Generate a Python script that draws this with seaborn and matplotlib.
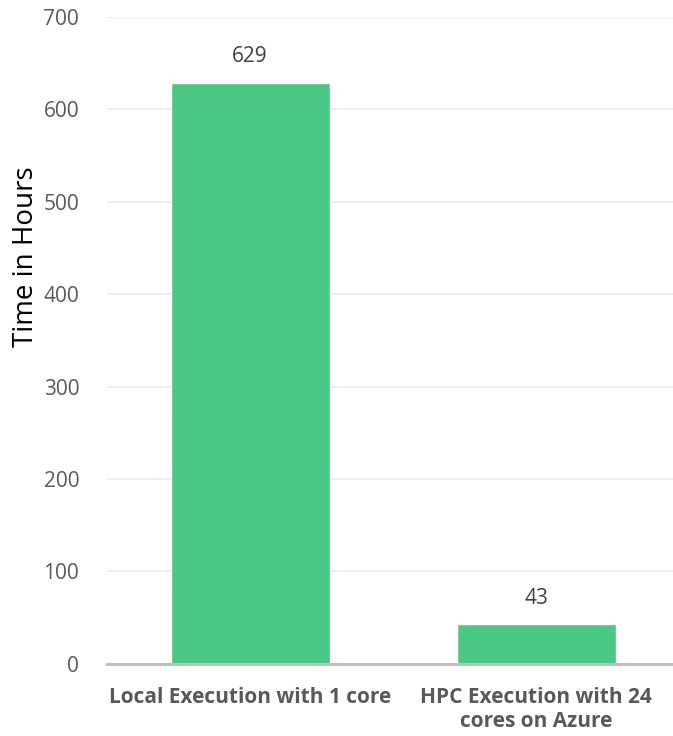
import matplotlib
matplotlib.use("Agg")
import matplotlib.pyplot as plt
import seaborn as sns
import pandas as pd

categories = ["Local Execution with 1 core", "HPC Execution with 24\ncores on Azure"]
hours = [629, 43]

sns.set_theme(style="white")
plt.rcParams["font.family"] = ["Open Sans", "DejaVu Sans"]

df = pd.DataFrame({"category": categories, "hours": hours})

fig = plt.figure(figsize=(6.73, 7.36), dpi=100)
ax = fig.add_axes([0.159, 0.098, 0.85, 0.879])

sns.barplot(data=df, x="category", y="hours", color="#4CC885", saturation=1,
            width=0.556, ax=ax, zorder=3)

ax.set_ylim(0, 700)
ax.set_xlim(-0.5, 1.5)
ax.set_yticks(range(0, 701, 100))
ax.yaxis.grid(True, color="#EBEBEB", linewidth=1.2, zorder=0)
ax.set_axisbelow(True)

for side in ["top", "right", "left"]:
    ax.spines[side].set_visible(False)
ax.spines["bottom"].set_color("#BFBFBF")
ax.spines["bottom"].set_linewidth(2.2)
ax.spines["bottom"].set_zorder(4)

ax.tick_params(axis="y", length=0, labelsize=15, labelcolor="#595959", pad=20)
ax.tick_params(axis="x", length=0, labelsize=15, labelcolor="#595959", pad=17)
for lbl in ax.get_xticklabels():
    lbl.set_fontweight("bold")
    lbl.set_linespacing(1.15)

ax.set_xlabel("")
ax.set_ylabel("Time in Hours", fontsize=20, color="black")
ax.yaxis.set_label_coords(-0.118, 0.63)

for i, v in enumerate(hours):
    ax.annotate(f"{v}", (i, v), xytext=(0, 11), textcoords="offset points",
                ha="center", va="bottom", fontsize=15, color="#404040")

fig.savefig("out.png", dpi=100)
